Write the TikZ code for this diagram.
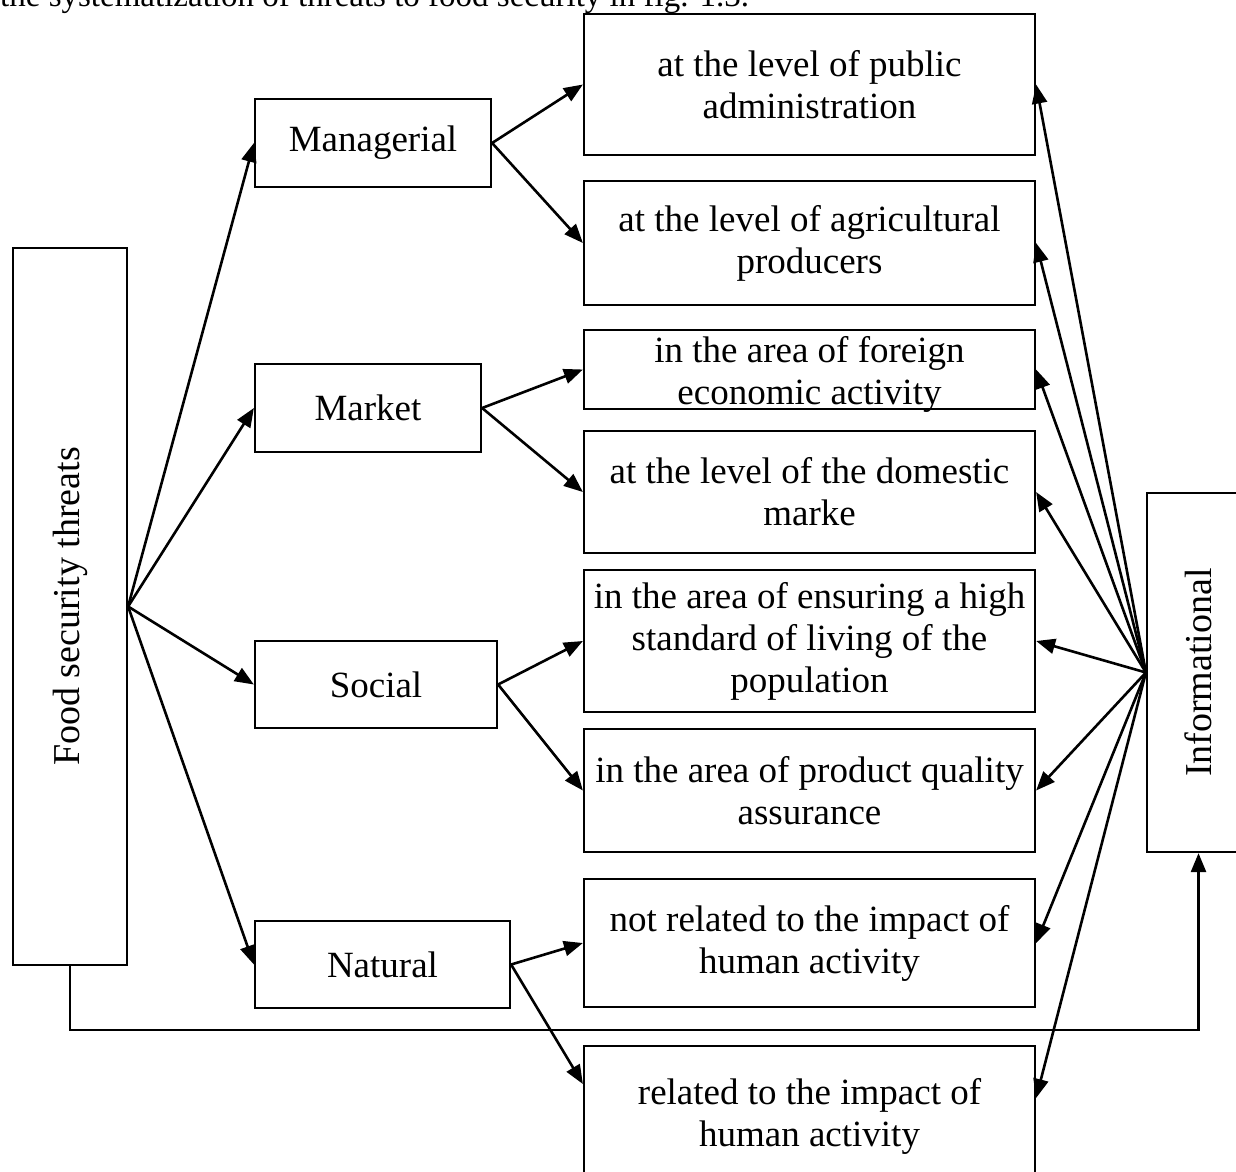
\documentclass[tikz,border=0pt]{standalone}
\usepackage{fontspec}
\setmainfont{Liberation Serif}
\usetikzlibrary{arrows.meta,calc}

\tikzset{
  txt/.style={font=\fontsize{37}{42}\selectfont, align=center},
  box/.style={draw, line width=2.2pt, inner sep=0pt, txt},
  arr/.style={line width=2.6pt, -{Triangle[length=19pt,width=15pt]}},
  link/.style={line width=2.6pt}
}

\begin{document}
\begin{tikzpicture}[x=1pt,y=-1pt]
\useasboundingbox (0,0) rectangle (1236,1171);

% heading line of the running text, cut by the page top
\node[anchor=base west, inner sep=0pt, font=\fontsize{33}{40}\selectfont] (head) at (0,6)
  {the systematization of threats to food security in fig. 1.3.};

% main block
\node[box, minimum width=114pt, minimum height=717pt] (threats) at (70,606.5)
  {\rotatebox{90}{\fontsize{38}{42}\selectfont Food security threats}};

% groups of threats
\node[box, minimum width=236pt, minimum height=88pt] (man) at (373,143) {Managerial};
\node[box, minimum width=226pt, minimum height=88pt] (mkt) at (368,408) {Market};
\node[box, minimum width=242pt, minimum height=87pt] (soc) at (376,684.5) {Social};
\node[box, minimum width=255pt, minimum height=87pt] (nat) at (382.5,964.5) {Natural};

% subgroups
\node[box, minimum width=451pt, minimum height=141pt] (b1) at (809.5,84.5)
  {at the level of public\\administration};
\node[box, minimum width=451pt, minimum height=124pt] (b2) at (809.5,243)
  {at the level of agricultural\\producers};
\node[box, minimum width=451pt, minimum height=79pt] (b3) at (809.5,369.5) {};
\node[txt, inner sep=0pt] (b3t) at (809.5,374) {in the area of foreign\\economic activity};
\node[box, minimum width=451pt, minimum height=122pt] (b4) at (809.5,492)
  {at the level of the domestic\\marke};
\node[box, minimum width=451pt, minimum height=142pt] (b5) at (809.5,641)
  {in the area of ensuring a high\\standard of living of the\\population};
\node[box, minimum width=451pt, minimum height=123pt] (b6) at (809.5,790.5)
  {in the area of product quality\\assurance};
\node[box, minimum width=451pt, minimum height=128pt] (b7) at (809.5,943)
  {not related to the impact of\\human activity};
\node[box, minimum width=451pt, minimum height=140pt] (b8) at (809.5,1116)
  {related to the impact of\\human activity};

% informational threats
\node[box, minimum width=103pt, minimum height=359pt] (info) at (1198.5,672.5)
  {\rotatebox{90}{\fontsize{38}{42}\selectfont Informational}};

% from the main block to the groups
\foreach \g in {man,mkt,soc,nat}
  \draw[arr] (threats.east) -- (\g.west);

% from the groups to the subgroups
\draw[arr] (man.east) -- (b1.west);
\draw[arr] (man.east) -- (b2.west);
\draw[arr] (mkt.east) -- (b3.west);
\draw[arr] (mkt.east) -- (b4.west);
\draw[arr] (soc.east) -- (b5.west);
\draw[arr] (soc.east) -- (b6.west);
\draw[arr] (nat.east) -- (b7.west);
\draw[arr] (nat.east) -- ([yshift=32pt]b8.west);

% informational threats reach every subgroup
\foreach \b in {b1,b2,b3,b4,b5,b6,b7}
  \draw[arr] (info.west) -- (\b.east);
\draw[arr] (info.west) -- ([yshift=18pt]b8.east);

% feedback line along the bottom
\draw[arr] (threats.south) -- ++(0,-64pt) -| (info.south);
\end{tikzpicture}
\end{document}
